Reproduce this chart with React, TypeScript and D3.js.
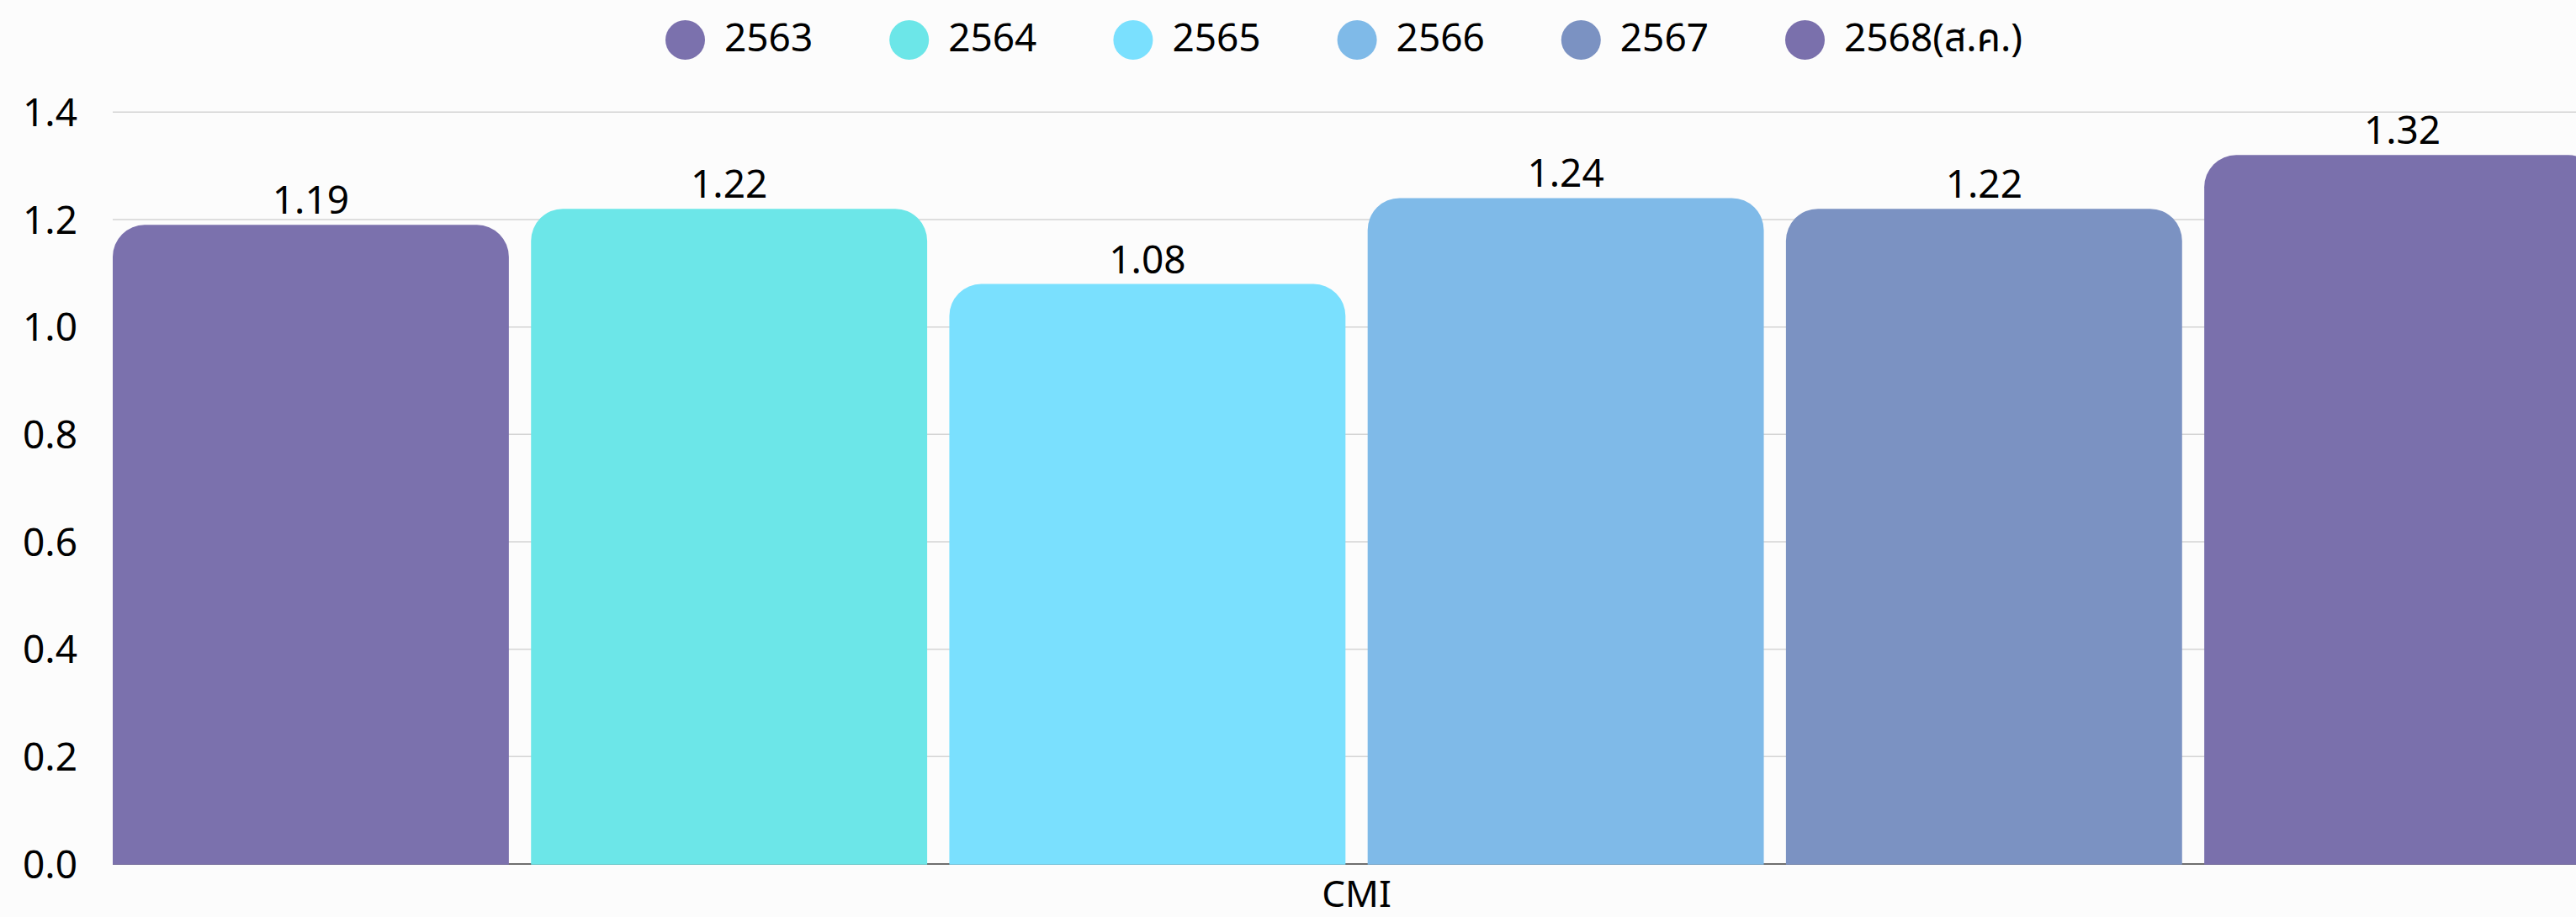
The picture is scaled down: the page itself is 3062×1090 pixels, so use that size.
import React from "react";
import * as d3 from "d3";

const categories = ["CMI"];
const seriesNames = ["2563", "2564", "2565", "2566", "2567", "2568(ส.ค.)"];
const seriesValues = [1.19, 1.22, 1.08, 1.24, 1.22, 1.32];
const seriesColors = ["#7b71ad", "#6ce6e8", "#7ae0fe", "#7fbae8", "#7b92c2", "#7a70ac"];
const yTicks = [0, 0.2, 0.4, 0.6, 0.8, 1.0, 1.2, 1.4];

const W = 3062;
const H = 1090;
const FONT = "'Noto Sans', 'Noto Sans Thai', 'Noto Sans Thai UI', sans-serif";

function topRoundedBar(x: number, y: number, w: number, h: number, r: number) {
  const rr = Math.min(r, w / 2, h);
  return `M${x},${y + h}V${y + rr}A${rr},${rr} 0 0 1 ${x + rr},${y}H${x + w - rr}A${rr},${rr} 0 0 1 ${x + w},${y + rr}V${y + h}Z`;
}

export default function App() {
  const left = 134;
  const plotRight = 3091;
  const top = 133.3;
  const bottom = 1027;

  const y = d3.scaleLinear().domain([0, 1.4]).range([bottom, top]);
  const x0 = d3.scaleBand<string>().domain(categories).range([left, plotRight]).padding(0);
  const x1 = d3
    .scaleBand<string>()
    .domain(seriesNames)
    .range([0, x0.bandwidth()])
    .paddingInner(0.053)
    .paddingOuter(0);

  const legendStart = 814.5;
  const legendStride = 266.2;

  return (
    <svg
      width={W}
      height={H}
      style={{ position: "absolute", left: 0, top: 0, background: "#fcfcfc", fontFamily: FONT }}
    >
      <rect x={0} y={0} width={W} height={H} fill="#fcfcfc" />
      {/* gridlines */}
      {yTicks.map((t) => (
        <line
          key={"g" + t}
          x1={left}
          x2={W}
          y1={y(t)}
          y2={y(t)}
          stroke={t === 0 ? "#6e6e6e" : "#d4d4d4"}
          strokeWidth={t === 0 ? 2 : 1.5}
        />
      ))}
      {/* y tick labels */}
      {yTicks.map((t) => (
        <text
          key={"t" + t}
          x={92}
          y={y(t)}
          dy="0.36em"
          textAnchor="end"
          fontSize={46}
          fill="#000"
        >
          {t.toFixed(1)}
        </text>
      ))}
      {/* bars */}
      {categories.map((c) => (
        <g key={c} transform={`translate(${x0(c)},0)`}>
          {seriesNames.map((s, i) => {
            const bx = x1(s) as number;
            const v = seriesValues[i];
            const by = y(v);
            return (
              <g key={s}>
                <path d={topRoundedBar(bx, by, x1.bandwidth(), bottom + 0.7 - by, 38)} fill={seriesColors[i]} />
                <text
                  x={bx + x1.bandwidth() / 2}
                  y={by - 13}
                  textAnchor="middle"
                  fontSize={46}
                  fill="#000"
                >
                  {v.toFixed(2)}
                </text>
              </g>
            );
          })}
          <text x={x0.bandwidth() / 2} y={1078} textAnchor="middle" fontSize={44} fill="#000">
            {c}
          </text>
        </g>
      ))}
      {/* legend */}
      {seriesNames.map((s, i) => {
        const cx = legendStart + i * legendStride;
        return (
          <g key={"l" + s}>
            <circle cx={cx} cy={47.5} r={23.5} fill={seriesColors[i]} />
            <text x={cx + 46.5} y={61} fontSize={46} fill="#000">
              {s}
            </text>
          </g>
        );
      })}
    </svg>
  );
}
